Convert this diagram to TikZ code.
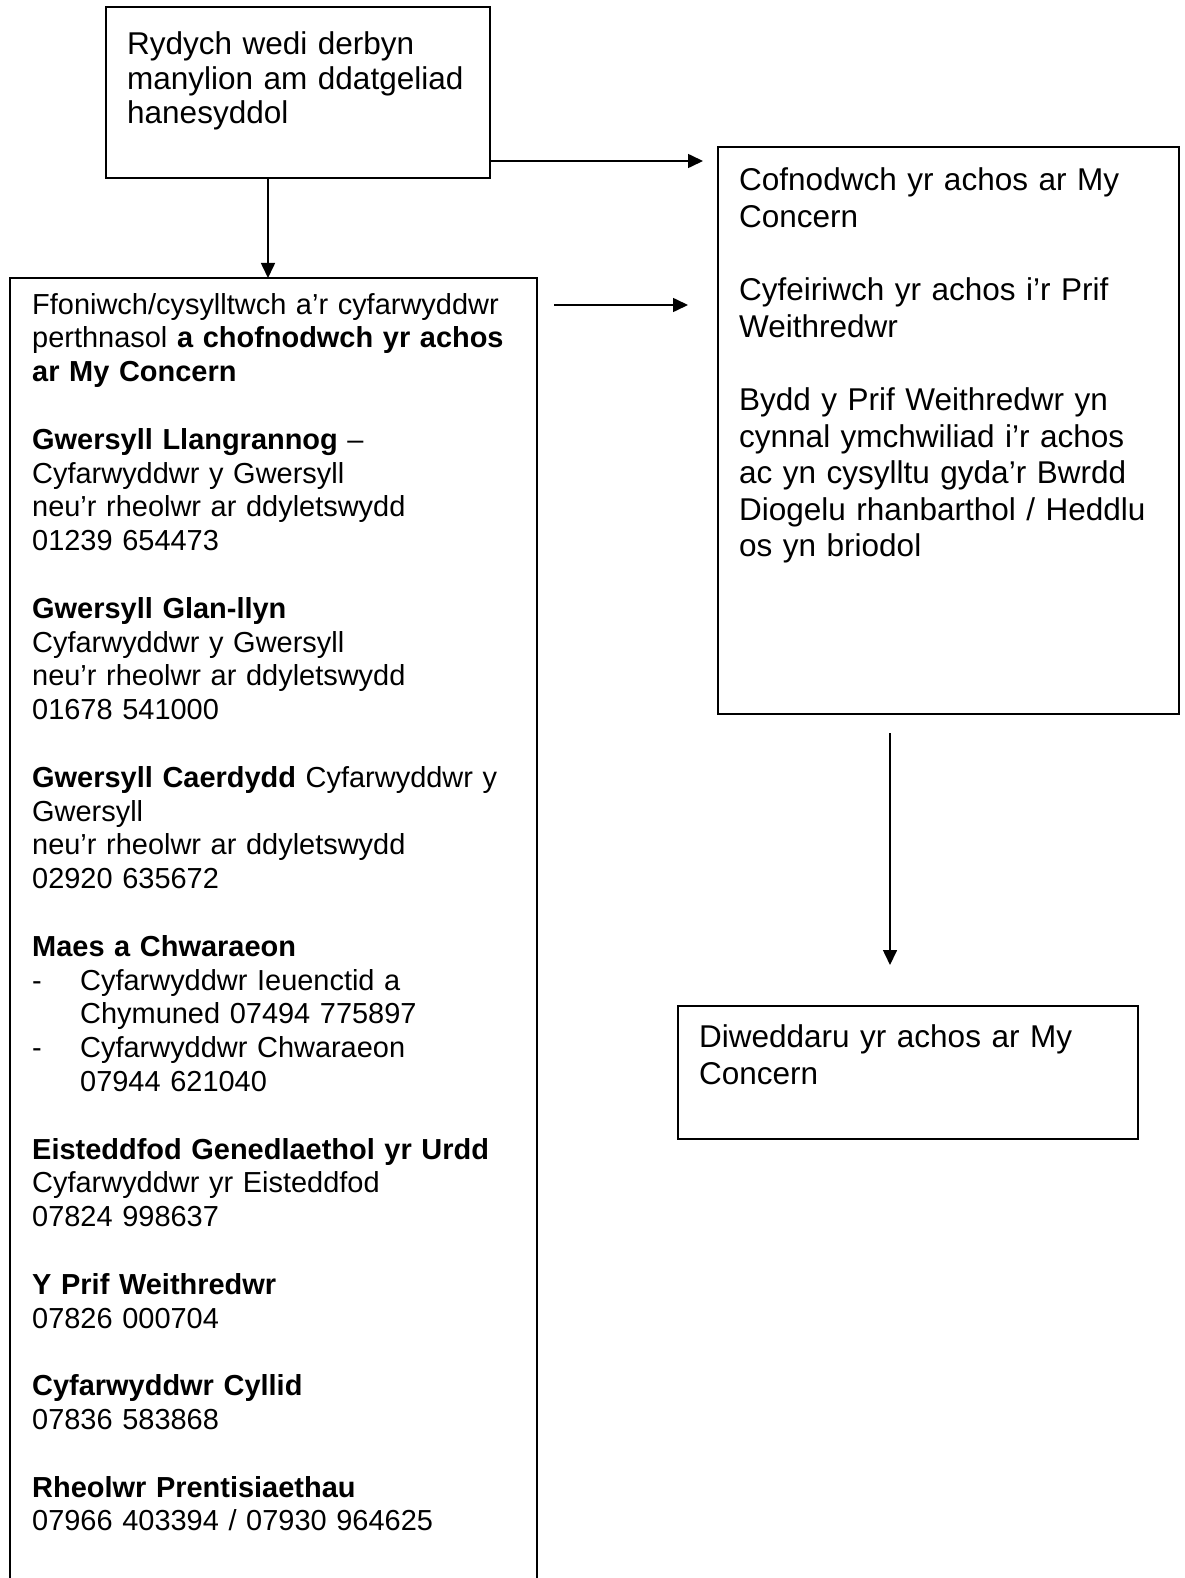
\documentclass[tikz,border=0pt]{standalone}
\usepackage{fontspec}
\setmainfont{Liberation Sans}
\usetikzlibrary{arrows.meta}
\begin{document}
\begin{tikzpicture}[x=1pt,y=-1pt,
  box/.style={draw=black, line width=1.6pt, anchor=north west, inner sep=0pt, outer sep=0pt},
  arr/.style={line width=1.6pt, -{Triangle[length=15pt,width=14pt]}},
  txtbig/.style={anchor=base west, inner sep=0pt, text width=520pt, align=left, font=\fontsize{31.5}{36.6}\selectfont},
  txtsmall/.style={anchor=base west, inner sep=0pt, text width=520pt, align=left, font=\fontsize{28.95}{33.8}\selectfont}
]
\useasboundingbox (0,0) rectangle (1184,1578);
\clip (0,0) rectangle (1184,1578);

% boxes
\node[box, minimum width=384pt, minimum height=171pt] (top) at (106,7) {};
\node[box, minimum width=461pt, minimum height=567pt] (right) at (718,147) {};
\node[box, minimum width=460pt, minimum height=133pt] (bottom) at (678,1006) {};
\node[box, minimum width=527pt, minimum height=1330pt] (left) at (10,278) {};

% texts
\node[txtbig, font=\fontsize{31.5}{34.3}\selectfont] (topT) at (127,55) {Rydych wedi derbyn\\manylion am ddatgeliad\\hanesyddol};

\node[txtbig] (rightT) at (739,191) {Cofnodwch yr achos ar My\\Concern\\\mbox{}\\Cyfeiriwch yr achos i’r Prif\\Weithredwr\\\mbox{}\\Bydd y Prif Weithredwr yn\\cynnal ymchwiliad i’r achos\\ac yn cysylltu gyda’r Bwrdd\\Diogelu rhanbarthol / Heddlu\\os yn briodol};

\node[txtbig, font=\fontsize{31.5}{37}\selectfont] (bottomT) at (699,1047) {Diweddaru yr achos ar My\\Concern};

\node[txtsmall] (leftT) at (32,314) {Ffoniwch/cysylltwch a’r cyfarwyddwr\\
perthnasol \textbf{a chofnodwch yr achos}\\
\textbf{ar My Concern}\\
\mbox{}\\
\textbf{Gwersyll Llangrannog} –\\
Cyfarwyddwr y Gwersyll\\
neu’r rheolwr ar ddyletswydd\\
01239 654473\\
\mbox{}\\
\textbf{Gwersyll Glan-llyn}\\
Cyfarwyddwr y Gwersyll\\
neu’r rheolwr ar ddyletswydd\\
01678 541000\\
\mbox{}\\
\textbf{Gwersyll Caerdydd} Cyfarwyddwr y\\
Gwersyll\\
neu’r rheolwr ar ddyletswydd\\
02920 635672\\
\mbox{}\\
\textbf{Maes a Chwaraeon}\\
\makebox[48pt][l]{-}Cyfarwyddwr Ieuenctid a\\
\hspace*{48pt}Chymuned 07494 775897\\
\makebox[48pt][l]{-}Cyfarwyddwr Chwaraeon\\
\hspace*{48pt}07944 621040\\
\mbox{}\\
\textbf{Eisteddfod Genedlaethol yr Urdd}\\
Cyfarwyddwr yr Eisteddfod\\
07824 998637\\
\mbox{}\\
\textbf{Y Prif Weithredwr}\\
07826 000704\\
\mbox{}\\
\textbf{Cyfarwyddwr Cyllid}\\
07836 583868\\
\mbox{}\\
\textbf{Rheolwr Prentisiaethau}\\
07966 403394 / 07930 964625};

% connector coordinates
\coordinate (a1e) at (703,161);
\coordinate (a2s) at (554,305);
\coordinate (a2e) at (688,305);
\coordinate (v1) at (268,0);
\coordinate (a4s) at (890,733);
\coordinate (a4e) at (890,965);

% connectors
\draw[arr] (top.east |- a1e) -- (a1e);
\draw[arr] (a2s) -- (a2e);
\draw[arr] (top.south -| v1) -- (left.north -| v1);
\draw[arr] (a4s) -- (a4e);
\end{tikzpicture}
\end{document}
